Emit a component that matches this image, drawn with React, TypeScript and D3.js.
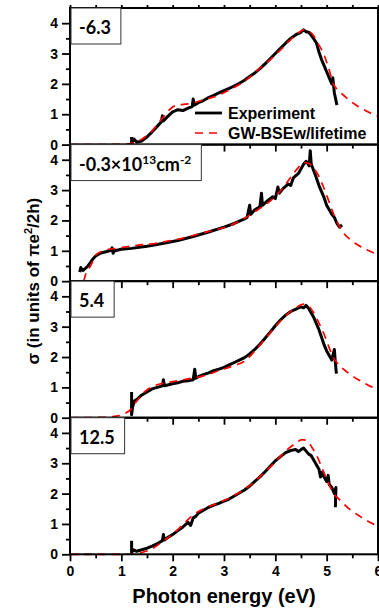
import React, { useEffect, useRef } from 'react';
import * as d3 from 'd3';

type Pt = [number, number];

// panel labels (carrier density)
const panelLabels = ['-6.3', '-0.3×10^13cm^-2', '5.4', '12.5'];

const xTicks = [0, 1, 2, 3, 4, 5, 6];
const yTicks = [0, 1, 2, 3, 4];

// GW-BSE with lifetime (theory), per panel
const theory1: Pt[] = [[0, 0], [0.5, 0], [1.0, 0.01], [1.2, 0.04], [1.4, 0.18], [1.6, 0.45], [1.7, 0.66], [1.8, 0.87], [1.9, 1.08], [2.0, 1.24], [2.1, 1.3], [2.3, 1.34], [2.5, 1.42], [2.7, 1.52], [2.9, 1.63], [3.1, 1.8], [3.3, 1.98], [3.5, 2.22], [3.7, 2.52], [3.9, 2.8], [4.1, 3.12], [4.3, 3.46], [4.45, 3.68], [4.55, 3.78], [4.65, 3.74], [4.75, 3.58], [4.85, 3.28], [4.95, 2.95], [5.05, 2.45], [5.13, 2.0], [5.25, 1.75], [5.4, 1.52], [5.6, 1.27], [5.8, 1.08], [6.0, 0.93]];
const theory2: Pt[] = [[0.27, 0], [0.3, 0.2], [0.4, 0.5], [0.5, 0.85], [0.6, 0.97], [0.7, 1.03], [0.9, 1.08], [1.1, 1.13], [1.3, 1.18], [1.6, 1.23], [1.9, 1.32], [2.2, 1.42], [2.5, 1.55], [2.8, 1.68], [3.1, 1.82], [3.4, 2.07], [3.7, 2.4], [3.9, 2.64], [4.1, 2.98], [4.3, 3.42], [4.45, 3.75], [4.55, 3.91], [4.65, 3.88], [4.75, 3.72], [4.85, 3.45], [4.95, 3.05], [5.05, 2.6], [5.15, 2.15], [5.3, 1.65], [5.45, 1.38], [5.6, 1.2], [5.8, 1.02], [6.0, 0.87]];
const theory3: Pt[] = [[0, 0], [0.6, 0.01], [0.9, 0.05], [1.05, 0.12], [1.2, 0.3], [1.3, 0.55], [1.45, 0.85], [1.6, 1.02], [1.8, 1.13], [2.0, 1.19], [2.3, 1.28], [2.6, 1.38], [2.9, 1.55], [3.2, 1.72], [3.4, 1.86], [3.6, 2.2], [3.8, 2.6], [4.0, 3.0], [4.2, 3.36], [4.4, 3.62], [4.55, 3.74], [4.65, 3.68], [4.75, 3.45], [4.85, 3.12], [4.95, 2.75], [5.05, 2.3], [5.13, 1.98], [5.25, 1.72], [5.4, 1.5], [5.6, 1.27], [5.8, 1.08], [6.0, 0.93]];
const theory4: Pt[] = [[0, 0], [1.0, 0], [1.2, 0.01], [1.4, 0.06], [1.6, 0.18], [1.8, 0.42], [2.0, 0.66], [2.2, 0.98], [2.4, 1.3], [2.6, 1.5], [2.8, 1.63], [3.0, 1.77], [3.2, 1.94], [3.4, 2.14], [3.6, 2.4], [3.8, 2.72], [4.0, 3.05], [4.2, 3.4], [4.4, 3.66], [4.52, 3.78], [4.62, 3.74], [4.72, 3.5], [4.82, 3.2], [4.92, 2.8], [5.02, 2.4], [5.12, 2.05], [5.25, 1.8], [5.45, 1.48], [5.65, 1.25], [5.85, 1.05], [6.0, 0.93]];

// measured spectra
const exp1: Pt[] = [[1.2, 0.25], [1.2, 0.05], [1.25, 0.18], [1.3, 0.08], [1.4, 0.12], [1.5, 0.25], [1.6, 0.42], [1.7, 0.6], [1.78, 0.75], [1.8, 0.95], [1.82, 0.78], [1.9, 0.92], [2.0, 1.08], [2.1, 1.15], [2.2, 1.12], [2.3, 1.2], [2.38, 1.25], [2.4, 1.5], [2.42, 1.3], [2.5, 1.38], [2.6, 1.45], [2.7, 1.55], [2.8, 1.62], [2.9, 1.7], [3.0, 1.78], [3.1, 1.85], [3.2, 1.93], [3.3, 2.02], [3.4, 2.12], [3.5, 2.24], [3.6, 2.36], [3.7, 2.5], [3.8, 2.66], [3.9, 2.83], [4.0, 3.0], [4.1, 3.17], [4.2, 3.34], [4.3, 3.5], [4.4, 3.62], [4.5, 3.7], [4.55, 3.78], [4.6, 3.72], [4.65, 3.7], [4.7, 3.6], [4.75, 3.48], [4.8, 3.35], [4.85, 3.05], [4.9, 2.8], [4.95, 2.6], [5.0, 2.4], [5.05, 2.2], [5.1, 2.0], [5.12, 2.2], [5.15, 1.7], [5.2, 1.3]];
const exp2: Pt[] = [[0.19, 0.3], [0.21, 0.45], [0.25, 0.35], [0.3, 0.42], [0.35, 0.5], [0.4, 0.62], [0.45, 0.74], [0.5, 0.83], [0.6, 0.93], [0.7, 0.97], [0.8, 1.02], [0.82, 1.1], [0.84, 0.92], [0.87, 1.0], [1.0, 1.05], [1.2, 1.08], [1.5, 1.15], [1.8, 1.24], [2.1, 1.34], [2.4, 1.47], [2.7, 1.62], [3.0, 1.78], [3.2, 1.9], [3.4, 2.05], [3.45, 2.1], [3.5, 2.5], [3.52, 2.2], [3.6, 2.35], [3.7, 2.45], [3.73, 2.9], [3.75, 2.5], [3.85, 2.65], [3.95, 2.78], [4.0, 2.72], [4.05, 3.1], [4.08, 2.9], [4.15, 3.05], [4.25, 3.2], [4.3, 3.15], [4.35, 3.4], [4.45, 3.55], [4.55, 3.85], [4.6, 3.95], [4.66, 3.8], [4.68, 4.3], [4.7, 3.85], [4.78, 3.5], [4.85, 3.15], [4.9, 2.95], [4.95, 2.75], [5.0, 2.5], [5.05, 2.35], [5.1, 2.2], [5.15, 2.1], [5.2, 1.9], [5.25, 1.78], [5.3, 1.85]];
const exp3: Pt[] = [[1.2, 0.85], [1.2, 0.1], [1.22, 0.35], [1.25, 0.55], [1.3, 0.6], [1.4, 0.75], [1.5, 0.85], [1.6, 0.95], [1.7, 1.0], [1.8, 1.05], [1.82, 1.25], [1.84, 1.05], [1.9, 1.08], [2.0, 1.12], [2.1, 1.15], [2.2, 1.2], [2.3, 1.22], [2.4, 1.25], [2.43, 1.6], [2.45, 1.3], [2.5, 1.35], [2.6, 1.42], [2.7, 1.48], [2.8, 1.55], [2.9, 1.6], [3.0, 1.66], [3.1, 1.74], [3.2, 1.82], [3.3, 1.9], [3.4, 1.98], [3.5, 2.1], [3.6, 2.25], [3.7, 2.42], [3.8, 2.62], [3.9, 2.82], [4.0, 3.03], [4.1, 3.22], [4.2, 3.38], [4.3, 3.5], [4.4, 3.58], [4.5, 3.65], [4.55, 3.62], [4.6, 3.7], [4.65, 3.6], [4.7, 3.45], [4.75, 3.3], [4.8, 3.1], [4.85, 2.9], [4.9, 2.65], [4.95, 2.4], [5.0, 2.2], [5.05, 2.05], [5.1, 1.9], [5.15, 2.25], [5.17, 1.8], [5.19, 1.45]];
const exp4: Pt[] = [[1.2, 0.45], [1.2, 0.05], [1.23, 0.15], [1.3, 0.1], [1.4, 0.15], [1.5, 0.2], [1.6, 0.27], [1.7, 0.35], [1.8, 0.45], [1.82, 0.65], [1.84, 0.47], [1.9, 0.55], [2.0, 0.65], [2.1, 0.78], [2.2, 0.9], [2.3, 1.05], [2.35, 0.95], [2.4, 1.2], [2.45, 1.25], [2.5, 1.35], [2.6, 1.45], [2.7, 1.55], [2.8, 1.62], [2.9, 1.68], [3.0, 1.75], [3.1, 1.82], [3.2, 1.92], [3.3, 2.02], [3.4, 2.12], [3.5, 2.25], [3.6, 2.4], [3.7, 2.55], [3.8, 2.72], [3.9, 2.9], [4.0, 3.08], [4.1, 3.22], [4.2, 3.35], [4.3, 3.42], [4.4, 3.45], [4.45, 3.38], [4.5, 3.45], [4.55, 3.5], [4.6, 3.4], [4.65, 3.3], [4.7, 3.25], [4.75, 3.1], [4.8, 2.95], [4.85, 2.8], [4.88, 2.55], [4.9, 2.7], [4.95, 2.55], [5.0, 2.4], [5.03, 2.6], [5.05, 2.3], [5.1, 2.2], [5.15, 2.0], [5.18, 2.2], [5.17, 1.55]];

const theory = [theory1, theory2, theory3, theory4];
const experiment = [exp1, exp2, exp3, exp4];

const W = 379;
const H = 611;
const sans = 'Liberation Sans, Arial, sans-serif';

export default function App() {
  const svgRef = useRef<SVGSVGElement>(null);

  useEffect(() => {
    if (!svgRef.current) return;
    const root = d3.select(svgRef.current);
    root.selectAll('*').remove();

    const left = 70, right = 378, top = 8, bottom = 554.3;
    const ph = (bottom - top) / 4;

    const x = d3.scaleLinear().domain([0, 6]).range([left, right]);
    const minorX = d3.range(0, 6.01, 0.5).filter(v => v % 1 !== 0);

    panelLabels.forEach((label, i) => {
      const pTop = top + i * ph;
      const y = d3.scaleLinear().domain([0, 4.5]).range([pTop + ph, pTop]);
      const g = root.append('g');

      // y axis ticks
      const ya = g.append('g').attr('transform', `translate(${left},0)`)
        .call(d3.axisLeft(y).tickValues(yTicks).tickSize(8).tickPadding(4).tickFormat(d3.format('d')));
      g.append('g').attr('transform', `translate(${left},0)`)
        .call(d3.axisLeft(y).tickValues([0.5, 1.5, 2.5, 3.5]).tickSize(4).tickFormat(() => ''));

      // x axis ticks
      const xa = g.append('g').attr('transform', `translate(0,${pTop + ph})`)
        .call(d3.axisBottom(x).tickValues(xTicks).tickSize(7).tickPadding(5)
          .tickFormat(i === 3 ? d3.format('d') : () => ''));
      g.append('g').attr('transform', `translate(0,${pTop + ph})`)
        .call(d3.axisBottom(x).tickValues(minorX).tickSize(4).tickFormat(() => ''));
      if (i === 0) {
        g.append('g').attr('transform', `translate(0,${pTop})`)
          .call(d3.axisTop(x).tickValues(d3.range(0, 6.01, 0.5)).tickSize(3).tickFormat(() => ''));
      }

      g.selectAll('.domain').remove();
      g.selectAll('.tick line').attr('stroke', '#000').attr('stroke-width', 1.8);
      g.selectAll('.tick text').filter(function () { return !(this as SVGTextElement).textContent; }).remove();
      [ya, xa].forEach(a => a.selectAll('text')
        .attr('font-family', sans).attr('font-weight', 'bold').attr('font-size', 14).attr('fill', '#000'));

      const line = d3.line<Pt>().x(d => x(d[0])).y(d => y(d[1]));

      g.append('path').datum(experiment[i])
        .attr('fill', 'none').attr('stroke', '#000').attr('stroke-width', 3)
        .attr('stroke-linejoin', 'round')
        .attr('d', line);

      g.append('path').datum(theory[i])
        .attr('fill', 'none').attr('stroke', '#ff0000').attr('stroke-width', 1.7)
        .attr('stroke-dasharray', '8,6')
        .attr('d', line.curve(d3.curveMonotoneX));

      // frame
      g.append('rect').attr('x', left).attr('y', pTop)
        .attr('width', right - left).attr('height', ph)
        .attr('fill', 'none').attr('stroke', '#000').attr('stroke-width', 2);

      // label box
      const box = g.append('rect').attr('x', left + 1).attr('y', pTop)
        .attr('height', 36).attr('fill', '#fff').attr('stroke', '#333').attr('stroke-width', 1);
      const t = g.append('text').attr('x', left + 9).attr('y', pTop + 26)
        .attr('font-family', 'Lato, Open Sans, sans-serif').attr('font-weight', 'bold')
        .attr('font-size', 18).attr('fill', '#000');
      const parts = label.split(/\^(-?\d+)/);
      let shift = 0;
      parts.forEach((p, k) => {
        if (!p) return;
        if (k % 2 === 1) {
          t.append('tspan').attr('dy', -7).attr('font-size', 12).text(p);
          shift = 7;
        } else {
          t.append('tspan').attr('dy', shift).text(p);
          shift = 0;
        }
      });
      const len = (t.node() as SVGTextElement).getComputedTextLength();
      box.attr('width', len + 18);
    });

    // legend inside the first panel
    const lg = root.append('g').attr('font-family', sans).attr('font-weight', 'bold').attr('font-size', 16);
    lg.append('line').attr('x1', 195).attr('x2', 222).attr('y1', 113).attr('y2', 113)
      .attr('stroke', '#000').attr('stroke-width', 2.8);
    lg.append('text').attr('x', 228).attr('y', 118.5).text('Experiment');
    lg.append('line').attr('x1', 195).attr('x2', 222).attr('y1', 133).attr('y2', 133)
      .attr('stroke', '#ff0000').attr('stroke-width', 1.7).attr('stroke-dasharray', '8,6');
    lg.append('text').attr('x', 228).attr('y', 138.5).text('GW-BSEw/lifetime');

    // axis titles
    root.append('text').attr('x', (left + right) / 2).attr('y', 603)
      .attr('text-anchor', 'middle').attr('font-family', sans).attr('font-weight', 'bold')
      .attr('font-size', 20).text('Photon energy (eV)');

    const yl = root.append('text').attr('transform', `translate(39,${(top + bottom) / 2}) rotate(-90)`)
      .attr('text-anchor', 'middle').attr('font-family', sans).attr('font-weight', 'bold')
      .attr('font-size', 17);
    yl.append('tspan').text('σ (in units of πe');
    yl.append('tspan').attr('dy', -7).attr('font-size', 11).text('2');
    yl.append('tspan').attr('dy', 7).text('/2h)');
  }, []);

  return (
    <div style={{ position: 'absolute', left: 0, top: 0 }}>
      <svg ref={svgRef} width={W} height={H} style={{ display: 'block', background: '#fff' }}></svg>
    </div>
  );
}
